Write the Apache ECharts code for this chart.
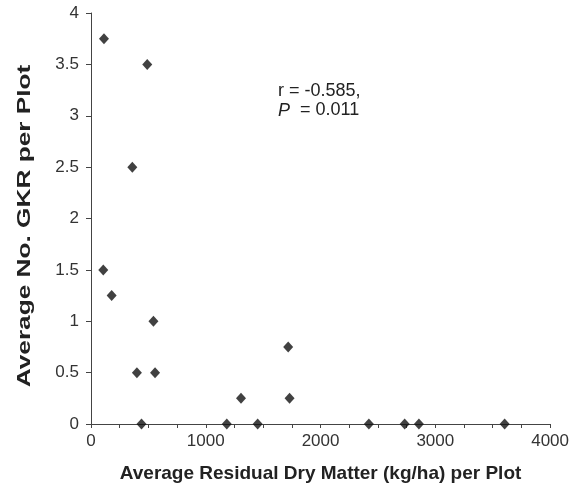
<!DOCTYPE html>
<html>
<head>
<meta charset="utf-8">
<script src="https://cdn.jsdelivr.net/npm/echarts@6/dist/echarts.min.js"></script>
<style>html,body{margin:0;padding:0;background:#fff}#c{width:572px;height:490px}</style>
</head>
<body>
<div id="c"></div>
<script>
// Data
var residualDM = [113, 490, 360, 107, 180, 544, 400, 558, 440, 1183, 1307, 1452, 1718, 1730, 2421, 2733, 2857, 3604];
var gkrCount   = [3.75, 3.5, 2.5, 1.5, 1.25, 1.0, 0.5, 0.5, 0, 0, 0.25, 0, 0.75, 0.25, 0, 0, 0, 0];
var xTickLabels = ['0', '1000', '2000', '3000', '4000'];
var yTickLabels = ['0', '0.5', '1', '1.5', '2', '2.5', '3', '3.5', '4'];
var xTitle = 'Average Residual Dry Matter (kg/ha) per Plot';
var yTitle = 'Average No. GKR per Plot';
var statR = 'r = -0.585,';
var statP = '0.011';

var points = residualDM.map(function (x, i) { return [x, gkrCount[i]]; });
var FONT = 'Liberation Sans, Arial, sans-serif';

var chart = echarts.init(document.getElementById('c'), null, {renderer: 'canvas'});
chart.setOption({
  animation: false,
  backgroundColor: '#ffffff',
  grid: {left: 91, right: 20, top: 13, bottom: 66, containLabel: false},
  xAxis: {
    type: 'value', min: 0, max: 4000, interval: 250,
    name: xTitle, nameLocation: 'middle', nameGap: 40,
    nameTextStyle: {fontFamily: FONT, fontWeight: 'bold', fontSize: 19, color: '#222'},
    axisLine: {show: true, onZero: false, lineStyle: {color: '#444', width: 1}},
    axisTick: {show: true, length: 4, lineStyle: {color: '#444'}},
    splitLine: {show: false},
    axisLabel: {
      fontFamily: FONT, fontSize: 17, color: '#333', margin: 9,
      formatter: function (v) {
        if (v % 1000 !== 0) return '';
        return xTickLabels[v / 1000];
      }
    }
  },
  yAxis: {
    type: 'value', min: 0, max: 4, interval: 0.5,
    axisLine: {show: true, onZero: false, lineStyle: {color: '#444', width: 1}},
    axisTick: {show: true, length: 5, lineStyle: {color: '#444'}},
    splitLine: {show: false},
    axisLabel: {
      fontFamily: FONT, fontSize: 17, color: '#333', margin: 12,
      formatter: function (v) { return yTickLabels[Math.round(v * 2)]; }
    }
  },
  graphic: [{
    type: 'text', x: 25, y: 226, rotation: Math.PI / 2, scaleX: 1.38, scaleY: 1,
    style: {
      text: yTitle, font: 'bold 19px ' + FONT, fill: '#222',
      textAlign: 'center', textVerticalAlign: 'middle'
    }
  }, {
    type: 'text', left: 278, top: 82,
    style: {
      text: statR + '\n{i|P}  = ' + statP,
      font: '18px ' + FONT, fill: '#222', lineHeight: 19,
      rich: {i: {fontStyle: 'italic', fontFamily: FONT, fontSize: 18, fill: '#222'}}
    }
  }],
  series: [{
    type: 'scatter', data: points,
    symbol: 'diamond', symbolSize: [10, 11],
    itemStyle: {color: '#111'}
  }]
});
</script>
</body>
</html>
